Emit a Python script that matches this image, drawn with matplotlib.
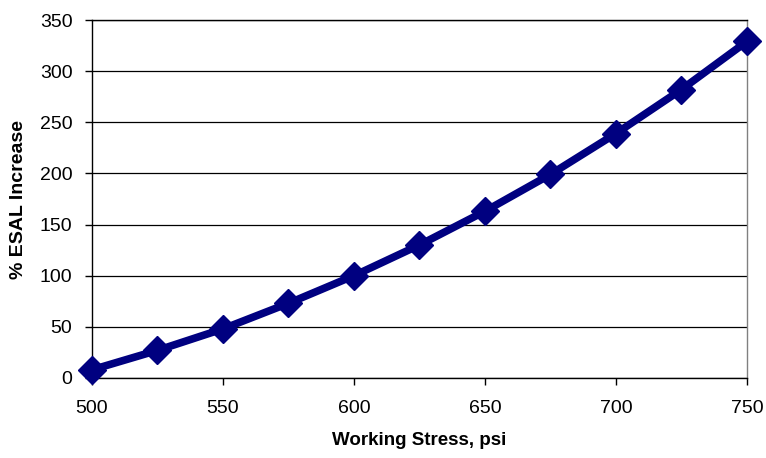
import matplotlib
matplotlib.use("Agg")
import matplotlib.pyplot as plt

plt.rcParams['font.family'] = ['Liberation Sans', 'DejaVu Sans']

stress = [500, 525, 550, 575, 600, 625, 650, 675, 700, 725, 750]
esal_increase = [8, 27, 48, 73, 100, 130, 163, 199, 239, 282, 329]

fig = plt.figure(figsize=(7.66, 4.58), dpi=100)
ax = fig.add_axes([0.120, 0.1747, 0.855, 0.7816])

ax.plot(stress, esal_increase, color='#000080', linewidth=5.5,
        marker='D', markersize=14, clip_on=False, zorder=3)

ax.set_xlim(500, 750)
ax.set_ylim(0, 350)
ax.set_xticks(range(500, 751, 50))
ax.set_yticks(range(0, 351, 50))
ax.yaxis.grid(True, color='#000000', linewidth=0.9)
ax.set_axisbelow(True)

for s in ax.spines.values():
    s.set_color('#000000')
    s.set_linewidth(1.0)
ax.spines['right'].set_color('#808080')

ax.tick_params(axis='both', direction='out', length=5, width=1, labelsize=14)
ax.tick_params(axis='y', pad=9)
ax.tick_params(axis='x', pad=11)

ax.set_xlabel('Working Stress, psi', fontsize=13.5, fontweight='bold', labelpad=11)
ax.set_ylabel('% ESAL Increase', fontsize=14, fontweight='bold', labelpad=9)

fig.savefig('out.png', dpi=100)
